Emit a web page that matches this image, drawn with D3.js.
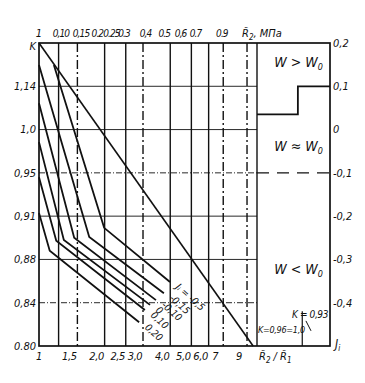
<!DOCTYPE html>
<html>
<head>
<meta charset="utf-8">
<script src="https://cdn.jsdelivr.net/npm/d3@7"></script>
<style>
body { margin: 0; background: #fff; }
text { font-family: "Liberation Sans Narrow", "DejaVu Sans Condensed", sans-serif; font-style: italic; fill: #111; }
</style>
</head>
<body>
<svg id="chart" width="365" height="383"></svg>
<script>

// left axis K, right axis J_i (same rows)
var kLabels = ["0.80", "0,84", "0,88", "0,91", "0,95", "1,0", "1,14", "K"];
var jTicks = [0.2, 0.1, 0, -0.1, -0.2, -0.3, -0.4];

// bottom axis R2/R1
var ratioTicks = [1, 1.5, 2, 2.5, 3, 4, 5, 6, 7, 9];
var ratioLabels = ["1", "1,5", "2,0", "2,5", "3,0", "4,0", "5,0", "6,0", "7", "9"];
var gridRatios = [1.23, 1.5, 2, 2.5, 3, 4, 5, 6, 7, 9, 10];

// top axis R2, MPa
var topTicks = [0.10, 0.15, 0.2, 0.25, 0.3, 0.4, 0.5, 0.6, 0.7, 0.9];
var topLabels = ["0,10", "0,15", "0.2", "0.25", "0.3", "0,4", "0.5", "0,6", "0.7", "0.9"];

// K = 0.96 = 1.0 line
var diagRatio = [1, 9.6];
var diagY = [0.2, -0.5];

// curves J_i (start, kink, end), y in right-axis units
var jNames = ["-0,5", "-0,15", "-0,10", "0", "0,10", "0,20"];
var curveRatio = [
  [1.17, 1.99, 3.99],
  [1, 1.70, 3.74],
  [1, 1.45, 3.44],
  [1, 1.30, 3.23],
  [1, 1.20, 3.06],
  [1, 1.12, 2.88]
];
var curveY = [
  [0.149, -0.227, -0.352],
  [0.149, -0.248, -0.378],
  [0.061, -0.250, -0.394],
  [-0.029, -0.255, -0.405],
  [-0.110, -0.257, -0.417],
  [-0.193, -0.280, -0.445]
];

// W > W0 boundary in right panel (0..1 across panel)
var stepX = [0, 0.56, 0.56, 1];
var stepY = [0.035, 0.035, 0.1, 0.1];
var wEqualY = -0.1;

var pLeft = 39, pRight = 330, pTop = 43, pBottom = 346;

var svg = d3.select("#chart");

var x = d3.scaleLog().domain([1, 10]).range([pLeft, 257]);
var y = d3.scaleLinear().domain([-0.5, 0.2]).range([pBottom, pTop]);
var yk = d3.scalePoint().domain(kLabels).range([pBottom, pTop]);
var xt = d3.scalePow().exponent(0.4).domain([0.1, 0.9]).range([x(1.26), x(6.9)]);
var xr = d3.scaleLinear().domain([0, 1]).range([x(10), pRight]);

var g = svg.append("g").attr("stroke", "#111").attr("fill", "none");

// horizontal grid
g.selectAll(".hg")
  .data(kLabels.slice(1, 7))
  .enter()
  .append("line")
  .attr("x1", pLeft).attr("x2", x(10))
  .attr("y1", function(d) { return yk(d); })
  .attr("y2", function(d) { return yk(d); })
  .attr("stroke-width", 0.9)
  .attr("stroke-dasharray", function(d) { return (d == "0,95" || d == "0,84") ? "6,2,1,2" : null; });

// vertical grid
var dashed = [1.5, 3, 7, 9];
g.selectAll(".vg")
  .data(gridRatios)
  .enter()
  .append("line")
  .attr("x1", function(d) { return x(d); })
  .attr("x2", function(d) { return x(d); })
  .attr("y1", pTop).attr("y2", pBottom)
  .attr("stroke-width", 1.4)
  .attr("stroke-dasharray", function(d) { return dashed.indexOf(d) >= 0 ? "9,3,2,3" : null; });

// frame
g.append("rect")
  .attr("x", pLeft).attr("y", pTop)
  .attr("width", pRight - pLeft).attr("height", pBottom - pTop)
  .attr("stroke-width", 1.7);

// main line
var line = d3.line()
  .x(function(d) { return x(d[0]); })
  .y(function(d) { return y(d[1]); });

g.append("path")
  .attr("d", line(d3.zip(diagRatio, diagY)))
  .attr("stroke-width", 1.6);

// J_i curves
g.selectAll(".curve")
  .data(curveRatio)
  .enter()
  .append("path")
  .attr("d", function(d, i) { return line(d3.zip(d, curveY[i])); })
  .attr("stroke-width", 1.8);

// right panel
var sline = d3.line()
  .x(function(d) { return xr(d[0]); })
  .y(function(d) { return y(d[1]); });

g.append("path")
  .attr("d", sline(d3.zip(stepX, stepY)))
  .attr("stroke-width", 1.8);

g.append("line")
  .attr("x1", xr(0)).attr("x2", xr(1))
  .attr("y1", y(wEqualY)).attr("y2", y(wEqualY))
  .attr("stroke-width", 1.3)
  .attr("stroke-dasharray", "12,8");

g.append("line")
  .attr("x1", xr(0.62)).attr("x2", xr(0.62))
  .attr("y1", y(-0.42)).attr("y2", pBottom)
  .attr("stroke-width", 1.2);

g.append("line")
  .attr("x1", xr(0.67)).attr("x2", xr(0.74))
  .attr("y1", y(-0.442)).attr("y2", y(-0.465))
  .attr("stroke-width", 1);

// left labels
svg.selectAll(".kl")
  .data(kLabels)
  .enter()
  .append("text")
  .attr("x", pLeft - 3)
  .attr("y", function(d) { return yk(d); })
  .attr("dy", function(d, i) { return i == 7 ? "0.6em" : "0.35em"; })
  .attr("text-anchor", "end")
  .attr("font-size", 11)
  .text(function(d) { return d; });

// right labels
svg.selectAll(".jl")
  .data(jTicks)
  .enter()
  .append("text")
  .attr("x", pRight + 3)
  .attr("y", function(d) { return y(d); })
  .attr("dy", "0.35em")
  .attr("font-size", 11)
  .text(function(d) { return (d < 0 ? "-" : "") + String(Math.abs(d)).replace(".", ","); });

var ji = svg.append("text")
  .attr("x", pRight + 5).attr("y", y(-0.5)).attr("dy", "0.2em")
  .attr("font-size", 12).text("J");
ji.append("tspan").attr("font-size", 8).attr("dy", 3).text("i");

// bottom labels
svg.selectAll(".bl")
  .data(ratioTicks)
  .enter()
  .append("text")
  .attr("x", function(d, i) { return x(d) - (i > 0 ? 8 : 0); })
  .attr("y", 360)
  .attr("text-anchor", "middle")
  .attr("font-size", 11)
  .attr("letter-spacing", -0.4)
  .text(function(d, i) { return ratioLabels[i]; });

var bt = svg.append("text").attr("x", 259).attr("y", 360).attr("font-size", 11);
bt.append("tspan").text("R\u0303");
bt.append("tspan").attr("font-size", 8).attr("dy", 3).text("2");
bt.append("tspan").attr("dy", -3).text(" / R\u0303");
bt.append("tspan").attr("font-size", 8).attr("dy", 3).text("1");

// top labels
svg.append("text").attr("x", pLeft).attr("y", 37)
  .attr("text-anchor", "middle").attr("font-size", 11).text("1");

svg.selectAll(".tl")
  .data(topTicks)
  .enter()
  .append("text")
  .attr("x", function(d) { return xt(d); })
  .attr("y", 37)
  .attr("text-anchor", "middle")
  .attr("font-size", 10)
  .attr("letter-spacing", -0.9)
  .text(function(d, i) { return topLabels[i]; });

var tt = svg.append("text").attr("x", 242).attr("y", 37).attr("font-size", 11);
tt.append("tspan").text("R\u0303");
tt.append("tspan").attr("font-size", 8).attr("dy", 3).text("2");
tt.append("tspan").attr("dy", -3).text(", МПа");

// curve labels
svg.selectAll(".cl")
  .data(curveRatio)
  .enter()
  .append("text")
  .attr("font-size", 10)
  .attr("transform", function(d, i) {
    return "translate(" + (x(d[2]) + 5) + "," + (y(curveY[i][2]) + 6) + ") rotate(42)";
  })
  .text(function(d, i) { return i == 0 ? "J\u1d62 = " + jNames[i] : jNames[i]; });

// right panel texts
function wText(yv, sign) {
  var t = svg.append("text")
    .attr("x", xr(0.57)).attr("y", y(yv))
    .attr("text-anchor", "middle")
    .attr("font-size", 14).attr("font-style", "normal")
    .text("W " + sign + " W");
  t.append("tspan").attr("font-size", 9).attr("dy", 3).text("0");
}
wText(0.145, ">");
wText(-0.05, "\u2248");
wText(-0.333, "<");

svg.append("text").attr("x", xr(0.48)).attr("y", y(-0.435))
  .attr("font-size", 10).attr("letter-spacing", -0.4).text("K = 0,93");
svg.append("text").attr("x", xr(0.0) + 1).attr("y", y(-0.47))
  .attr("font-size", 9).attr("letter-spacing", -0.3).text("K=0,96=1,0");

</script>
</body>
</html>
